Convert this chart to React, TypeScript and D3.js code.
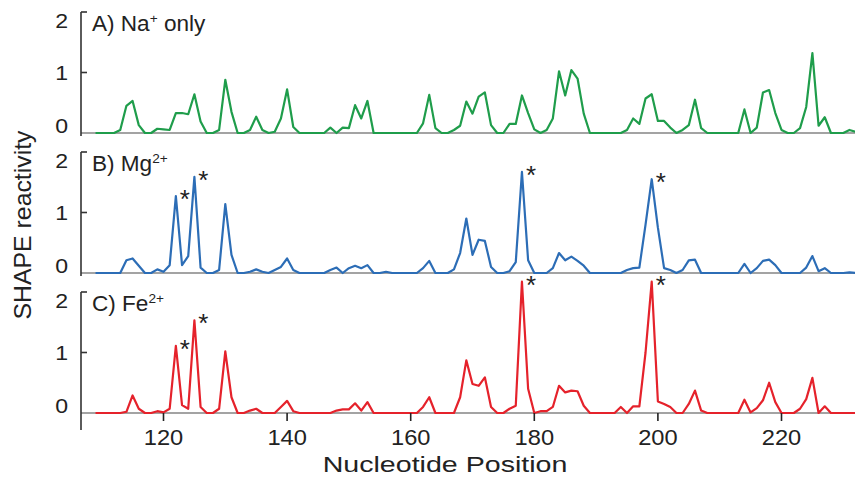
import React from 'react';
import * as d3 from 'd3';

const START_POS = 109;

const naOnly = [
  0, 0, 0, 0, 0.05, 0.45, 0.53, 0.13, 0, 0,
  0.07, 0.06, 0.05, 0.33, 0.33, 0.31, 0.64, 0.19, 0, 0,
  0.05, 0.88, 0.35, 0, 0, 0.05, 0.27, 0.05, 0, 0.02,
  0.24, 0.72, 0.1, 0, 0, 0, 0, 0, 0.09, 0,
  0.09, 0.08, 0.46, 0.24, 0.53, 0, 0, 0, 0, 0,
  0, 0, 0, 0.16, 0.63, 0.08, 0, 0, 0.05, 0.12,
  0.52, 0.32, 0.6, 0.67, 0.13, 0, 0, 0.15, 0.15, 0.62,
  0.33, 0.06, 0, 0.05, 0.24, 1.02, 0.62, 1.04, 0.9, 0.32,
  0, 0, 0, 0, 0, 0, 0.05, 0.24, 0.15, 0.57,
  0.64, 0.2, 0.2, 0.09, 0, 0.05, 0.13, 0.55, 0.08, 0,
  0, 0, 0, 0, 0, 0.39, 0, 0.09, 0.67, 0.71,
  0.33, 0.05, 0, 0, 0.08, 0.43, 1.32, 0.12, 0.26, 0,
  0, 0, 0.05, 0.02, 0,
];

const mg = [
  0, 0, 0, 0, 0, 0.21, 0.24, 0.12, 0, 0,
  0.06, 0.02, 0.13, 1.27, 0.13, 0.28, 1.59, 0.09, 0, 0,
  0.05, 1.14, 0.3, 0, 0, 0.02, 0.06, 0.02, 0, 0.05,
  0.1, 0.24, 0.05, 0, 0, 0, 0, 0, 0.05, 0.09,
  0, 0.08, 0.12, 0.08, 0.13, 0, 0, 0.02, 0, 0,
  0, 0, 0, 0.08, 0.2, 0, 0, 0, 0.06, 0.33,
  0.9, 0.3, 0.55, 0.53, 0.1, 0, 0, 0.03, 0.18, 1.67,
  0.21, 0, 0, 0, 0.08, 0.33, 0.21, 0.27, 0.2, 0.12,
  0, 0, 0, 0, 0, 0, 0.05, 0.08, 0.09, 0.8,
  1.55, 0.75, 0.08, 0.05, 0, 0.05, 0.21, 0.22, 0, 0,
  0, 0, 0, 0, 0, 0.15, 0, 0.08, 0.2, 0.22,
  0.13, 0, 0, 0, 0, 0.09, 0.28, 0.03, 0.08, 0,
  0, 0, 0.01, 0, 0,
];

const fe = [
  0, 0, 0, 0, 0, 0.02, 0.29, 0.07, 0, 0,
  0.03, 0.01, 0.07, 1.11, 0.13, 0.07, 1.53, 0.1, 0, 0,
  0.07, 1.02, 0.26, 0, 0, 0.04, 0.07, 0, 0, 0,
  0.1, 0.2, 0.03, 0, 0, 0, 0, 0, 0, 0.04,
  0.06, 0.06, 0.16, 0.04, 0.18, 0, 0, 0, 0, 0,
  0, 0, 0, 0.1, 0.26, 0, 0, 0, 0, 0.26,
  0.87, 0.48, 0.45, 0.59, 0.1, 0, 0, 0.07, 0.12, 2.17,
  0.4, 0, 0.03, 0.03, 0.1, 0.45, 0.34, 0.37, 0.36, 0.12,
  0, 0, 0, 0, 0, 0.1, 0, 0.11, 0.11, 1.0,
  2.17, 0.19, 0.15, 0.1, 0, 0, 0.15, 0.37, 0.04, 0,
  0, 0, 0, 0, 0, 0.22, 0.01, 0.08, 0.21, 0.5,
  0.18, 0, 0, 0, 0.07, 0.23, 0.58, 0, 0.11, 0,
  0, 0, 0, 0, 0,
];

const xTicks = [120, 140, 160, 180, 200, 220];
const yTicks = [0, 1, 2];
const starsMg = [122, 125, 178, 199];
const starsFe = [122, 125, 178, 199];
const panelNames = ['A) Na', 'B) Mg', 'C) Fe'];
const panelSups = ['+', '2+', '2+'];
const panelSuffix = [' only', '', ''];

const FONT = "'Liberation Sans', Arial, Helvetica, sans-serif";

export default function App() {
  const W = 855;
  const H = 478;
  const axisX = 81;
  const x = d3.scaleLinear().domain([120, 220]).range([163.5, 781.5]);
  const panels = [
    { data: naOnly, color: '#1f9d4b', base: 133, stars: [] as number[] },
    { data: mg, color: '#2c6db6', base: 273, stars: starsMg },
    { data: fe, color: '#e5222b', base: 413, stars: starsFe },
  ];

  return (
    <svg width={W} height={H} style={{ position: 'absolute', left: 0, top: 0, background: '#fff' }} fontFamily={FONT}>
      {panels.map((p, pi) => {
        const y = d3.scaleLinear().domain([0, 2]).range([p.base, p.base - 121]);
        const line = d3
          .line<number>()
          .x((_, i) => x(START_POS + i))
          .y((d) => y(d));
        const isLast = pi === panels.length - 1;
        return (
          <g key={pi}>
            <line x1={axisX} x2={W} y1={y(0)} y2={y(0)} stroke="#858585" strokeWidth={1.6} />
            <line
              x1={axisX}
              x2={axisX}
              y1={y(2)}
              y2={isLast ? 430 : y(0) + 3}
              stroke="#333"
              strokeWidth={1.6}
            />
            {yTicks
              .filter((t) => t > 0)
              .map((t) => (
                <line key={t} x1={axisX} x2={axisX + 6} y1={y(t)} y2={y(t)} stroke="#333" strokeWidth={1.6} />
              ))}
            {yTicks.map((t) => {
              const yy = t === 2 ? y(t) + 16 : t === 1 ? y(t) + 7.5 : y(t);
              return (
                <text
                  key={t}
                  transform={`translate(68,${yy}) scale(1.1,1)`}
                  textAnchor="end"
                  fontSize={21}
                  fill="#222"
                >
                  {t}
                </text>
              );
            })}
            <path d={line(p.data) || ''} fill="none" stroke={p.color} strokeWidth={2.2} strokeLinejoin="round" />
            {p.stars.map((n) => {
              const v = p.data[n - START_POS];
              return (
                <text key={n} x={x(n) + 9} y={y(v) + 12} textAnchor="middle" fontSize={26} fill="#222">
                  *
                </text>
              );
            })}
            <text transform={`translate(92,${y(2) + 19}) scale(1.05,1)`} fontSize={21.5} fill="#222">
              {panelNames[pi]}
              <tspan fontSize={13} dy={-8}>
                {panelSups[pi]}
              </tspan>
              {panelSuffix[pi] ? <tspan dy={8}>{panelSuffix[pi]}</tspan> : null}
            </text>
            {isLast &&
              xTicks.map((t) => (
                <g key={t}>
                  <line x1={x(t)} x2={x(t)} y1={y(0)} y2={y(0) + 8} stroke="#222" strokeWidth={1.6} />
                  <text
                    transform={`translate(${x(t)},445) scale(1.1,1)`}
                    textAnchor="middle"
                    fontSize={21.5}
                    fill="#222"
                  >
                    {t}
                  </text>
                </g>
              ))}
          </g>
        );
      })}
      <text transform="translate(445,472) scale(1.3,1)" textAnchor="middle" fontSize={22} fill="#222">
        Nucleotide Position
      </text>
      <text transform="translate(31,225) rotate(-90) scale(1.08,1)" textAnchor="middle" fontSize={23} fill="#222">
        SHAPE reactivity
      </text>
    </svg>
  );
}
